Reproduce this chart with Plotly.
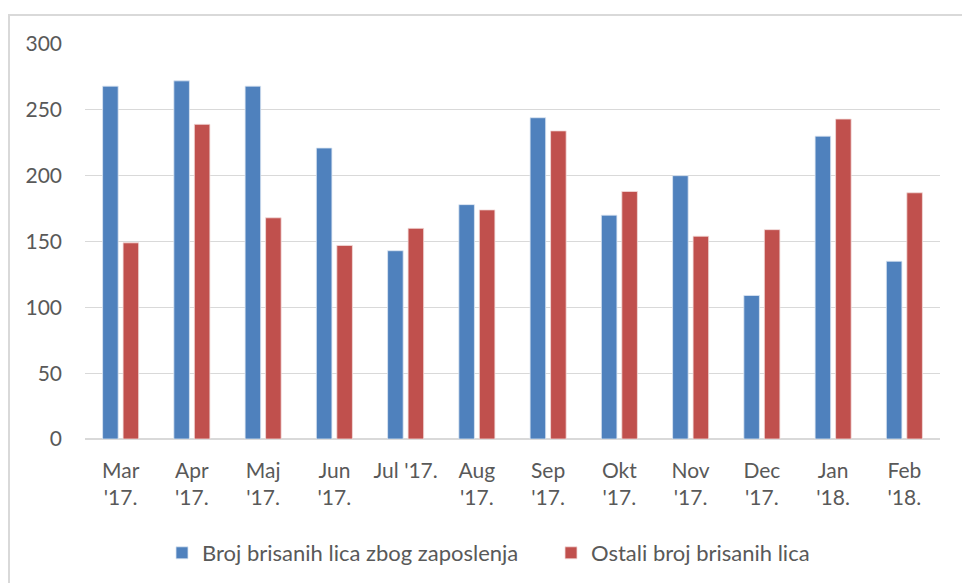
import plotly.graph_objects as go

categories = ["Mar<br>'17.", "Apr<br>'17.", "Maj<br>'17.", "Jun<br>'17.", "Jul '17.", "Aug<br>'17.",
              "Sep<br>'17.", "Okt<br>'17.", "Nov<br>'17.", "Dec<br>'17.", "Jan<br>'18.", "Feb<br>'18."]
zaposlenje = [268, 272, 268, 221, 143, 178, 244, 170, 200, 109, 230, 135]
ostali = [149, 239, 168, 147, 160, 174, 234, 188, 154, 159, 243, 187]
series_names = ["Broj brisanih lica zbog zaposlenja", "Ostali broj brisanih lica"]
y_ticks = [0, 50, 100, 150, 200, 250, 300]

BLUE = "#4f81bd"
RED = "#c0504d"
FONT = "Lato"
TXT = "#595959"

W, H = 962, 583
L, R, T, B = 85, 22, 44, 144
pw, ph = W - L - R, H - T - B

fig = go.Figure()
fig.add_trace(go.Bar(x=categories, y=zaposlenje, name=series_names[0],
                     marker=dict(color=BLUE, line=dict(color="#dce6f2", width=0.8))))
fig.add_trace(go.Bar(x=categories, y=ostali, name=series_names[1],
                     marker=dict(color=RED, line=dict(color="#f2dcdb", width=0.8))))

def px_x(p):
    return (p - L) / pw

def px_y(p):
    return (H - B - p) / ph

fig.update_layout(
    width=W, height=H,
    margin=dict(l=L, r=R, t=T, b=B, autoexpand=False),
    paper_bgcolor="white", plot_bgcolor="white",
    barmode="group", bargap=0.425, bargroupgap=0.24,
    font=dict(family=FONT, size=21, color=TXT),
    xaxis=dict(showgrid=False, showline=False, ticks="", tickfont=dict(size=21, color=TXT),
               tickangle=0, automargin=False, ticklabelstandoff=17),
    yaxis=dict(range=[0, 300], tickvals=y_ticks, showgrid=True, gridcolor="#d9d9d9",
               gridwidth=1.3, zeroline=True, zerolinecolor="#d9d9d9", zerolinewidth=2,
               showline=False, ticks="", ticklabelstandoff=22, automargin=False,
               tickfont=dict(size=21, color=TXT)),
    legend=dict(orientation="h", x=px_x(162), xanchor="left", y=px_y(553), yanchor="middle",
                font=dict(size=22, color=TXT), itemwidth=30, traceorder="normal",
                entrywidth=344, bgcolor="rgba(0,0,0,0)"),
    showlegend=True,
)

fig.add_shape(type="rect", xref="paper", yref="paper",
              x0=px_x(9), x1=px_x(970), y0=px_y(600), y1=px_y(15),
              line=dict(color="#d9d9d9", width=2), fillcolor="rgba(0,0,0,0)", layer="below")

fig.write_html("out.html", config={"displayModeBar": False},
               post_script="document.body.style.margin='0';")
